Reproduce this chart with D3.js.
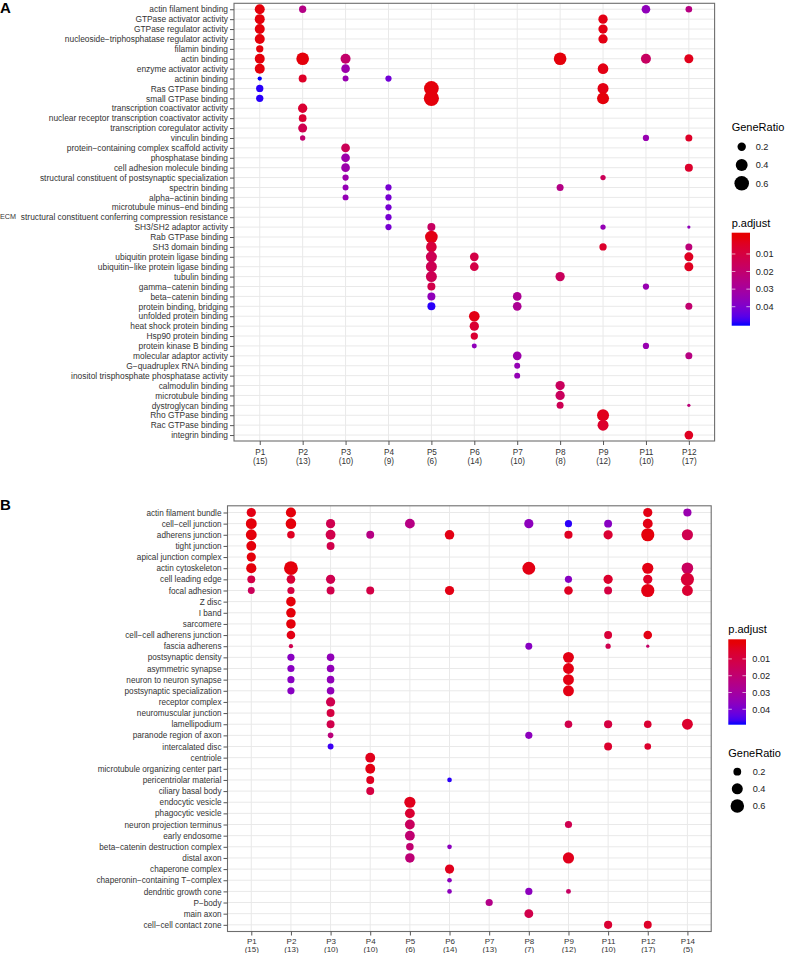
<!DOCTYPE html>
<html><head><meta charset="utf-8">
<script src="https://cdn.jsdelivr.net/npm/d3@7"></script>
<style>body{margin:0;background:#fff}svg{display:block;font-family:"Liberation Sans",Arial,Helvetica,sans-serif}</style>
</head><body><svg id="c" width="787" height="953"></svg>
<script>
// ---------- Panel A: molecular function ----------
const mfTerms = [
 "actin filament binding","GTPase activator activity","GTPase regulator activity",
 "nucleoside-triphosphatase regulator activity","filamin binding","actin binding",
 "enzyme activator activity","actinin binding","Ras GTPase binding","small GTPase binding",
 "transcription coactivator activity","nuclear receptor transcription coactivator activity",
 "transcription coregulator activity","vinculin binding","protein-containing complex scaffold activity",
 "phosphatase binding","cell adhesion molecule binding","structural constituent of postsynaptic specialization",
 "spectrin binding","alpha-actinin binding","microtubule minus-end binding",
 "structural constituent conferring compression resistance","SH3/SH2 adaptor activity",
 "Rab GTPase binding","SH3 domain binding","ubiquitin protein ligase binding",
 "ubiquitin-like protein ligase binding","tubulin binding","gamma-catenin binding",
 "beta-catenin binding","protein binding, bridging","unfolded protein binding",
 "heat shock protein binding","Hsp90 protein binding","protein kinase B binding",
 "molecular adaptor activity","G-quadruplex RNA binding","inositol trisphosphate phosphatase activity",
 "calmodulin binding","microtubule binding","dystroglycan binding","Rho GTPase binding",
 "Rac GTPase binding","integrin binding"];
const mfClusters = ["P1","P2","P3","P4","P5","P6","P7","P8","P9","P11","P12"];
const mfSizes = [15,13,10,9,6,14,10,8,12,10,17];
// [term, cluster, GeneRatio, p.adjust]
const mfDots = [
 ["actin filament binding","P1",0.28,0.001],["actin filament binding","P2",0.15,0.025],
 ["actin filament binding","P11",0.21,0.036],["actin filament binding","P12",0.125,0.024],
 ["GTPase activator activity","P1",0.28,0.001],["GTPase activator activity","P9",0.244,0.002],
 ["GTPase regulator activity","P1",0.28,0.001],["GTPase regulator activity","P9",0.244,0.002],
 ["nucleoside-triphosphatase regulator activity","P1",0.28,0.001],["nucleoside-triphosphatase regulator activity","P9",0.244,0.002],
 ["filamin binding","P1",0.15,0.001],
 ["actin binding","P1",0.28,0.001],["actin binding","P2",0.45,0.001],["actin binding","P3",0.28,0.019],
 ["actin binding","P8",0.45,0.001],["actin binding","P11",0.28,0.017],["actin binding","P12",0.23,0.003],
 ["enzyme activator activity","P1",0.28,0.001],["enzyme activator activity","P3",0.21,0.033],["enzyme activator activity","P9",0.32,0.002],
 ["actinin binding","P1",0.052,0.05],["actinin binding","P2",0.18,0.005],["actinin binding","P3",0.10,0.034],["actinin binding","P4",0.11,0.042],
 ["Ras GTPase binding","P1",0.15,0.049],["Ras GTPase binding","P5",0.61,0.001],["Ras GTPase binding","P9",0.34,0.002],
 ["small GTPase binding","P1",0.15,0.049],["small GTPase binding","P5",0.65,0.001],["small GTPase binding","P9",0.405,0.001],
 ["transcription coactivator activity","P2",0.244,0.007],
 ["nuclear receptor transcription coactivator activity","P2",0.167,0.007],
 ["transcription coregulator activity","P2",0.228,0.013],
 ["vinculin binding","P2",0.08,0.02],["vinculin binding","P11",0.11,0.034],["vinculin binding","P12",0.138,0.005],
 ["protein-containing complex scaffold activity","P3",0.213,0.015],
 ["phosphatase binding","P3",0.213,0.033],
 ["cell adhesion molecule binding","P3",0.213,0.033],["cell adhesion molecule binding","P12",0.18,0.006],
 ["structural constituent of postsynaptic specialization","P3",0.11,0.033],["structural constituent of postsynaptic specialization","P9",0.08,0.015],
 ["spectrin binding","P3",0.10,0.035],["spectrin binding","P4",0.11,0.041],["spectrin binding","P8",0.138,0.025],
 ["alpha-actinin binding","P3",0.10,0.035],["alpha-actinin binding","P4",0.11,0.041],
 ["microtubule minus-end binding","P4",0.11,0.041],
 ["structural constituent conferring compression resistance","P4",0.11,0.041],
 ["SH3/SH2 adaptor activity","P4",0.11,0.041],["SH3/SH2 adaptor activity","P5",0.18,0.017],
 ["SH3/SH2 adaptor activity","P9",0.08,0.035],["SH3/SH2 adaptor activity","P12",0.03,0.036],
 ["Rab GTPase binding","P5",0.45,0.002],
 ["SH3 domain binding","P5",0.32,0.009],["SH3 domain binding","P9",0.15,0.006],["SH3 domain binding","P12",0.138,0.022],
 ["ubiquitin protein ligase binding","P5",0.34,0.014],["ubiquitin protein ligase binding","P6",0.213,0.011],["ubiquitin protein ligase binding","P12",0.228,0.004],
 ["ubiquitin-like protein ligase binding","P5",0.34,0.014],["ubiquitin-like protein ligase binding","P6",0.213,0.011],["ubiquitin-like protein ligase binding","P12",0.228,0.004],
 ["tubulin binding","P5",0.34,0.014],["tubulin binding","P8",0.244,0.016],
 ["gamma-catenin binding","P5",0.18,0.012],["gamma-catenin binding","P11",0.11,0.034],
 ["beta-catenin binding","P5",0.18,0.036],["beta-catenin binding","P7",0.213,0.028],
 ["protein binding, bridging","P5",0.18,0.049],["protein binding, bridging","P7",0.213,0.028],["protein binding, bridging","P12",0.138,0.02],
 ["unfolded protein binding","P6",0.32,0.002],
 ["heat shock protein binding","P6",0.244,0.007],
 ["Hsp90 protein binding","P6",0.15,0.007],
 ["protein kinase B binding","P6",0.07,0.036],["protein kinase B binding","P11",0.11,0.034],
 ["molecular adaptor activity","P7",0.213,0.033],["molecular adaptor activity","P12",0.138,0.024],
 ["G-quadruplex RNA binding","P7",0.10,0.035],
 ["inositol trisphosphate phosphatase activity","P7",0.10,0.035],
 ["calmodulin binding","P8",0.244,0.016],
 ["microtubule binding","P8",0.244,0.016],
 ["dystroglycan binding","P8",0.138,0.014],["dystroglycan binding","P12",0.03,0.022],
 ["Rho GTPase binding","P9",0.405,0.003],
 ["Rac GTPase binding","P9",0.34,0.006],
 ["integrin binding","P12",0.213,0.004]];

// ---------- Panel B: cellular component ----------
const ccTerms = [
 "actin filament bundle","cell-cell junction","adherens junction","tight junction",
 "apical junction complex","actin cytoskeleton","cell leading edge","focal adhesion","Z disc",
 "I band","sarcomere","cell-cell adherens junction","fascia adherens","postsynaptic density",
 "asymmetric synapse","neuron to neuron synapse","postsynaptic specialization","receptor complex",
 "neuromuscular junction","lamellipodium","paranode region of axon","intercalated disc","centriole",
 "microtubule organizing center part","pericentriolar material","ciliary basal body",
 "endocytic vesicle","phagocytic vesicle","neuron projection terminus","early endosome",
 "beta-catenin destruction complex","distal axon","chaperone complex",
 "chaperonin-containing T-complex","dendritic growth cone","P-body","main axon","cell-cell contact zone"];
const ccClusters = ["P1","P2","P3","P4","P5","P6","P7","P8","P9","P11","P12","P14"];
const ccSizes = [15,13,10,10,6,14,13,7,12,10,17,5];
const ccDots = [
 ["actin filament bundle","P1",0.28,0.002],["actin filament bundle","P2",0.34,0.001],["actin filament bundle","P12",0.28,0.002],["actin filament bundle","P14",0.22,0.033],
 ["cell-cell junction","P1",0.39,0.001],["cell-cell junction","P2",0.37,0.001],["cell-cell junction","P3",0.28,0.013],["cell-cell junction","P5",0.32,0.024],
 ["cell-cell junction","P8",0.28,0.036],["cell-cell junction","P9",0.17,0.048],["cell-cell junction","P11",0.207,0.037],["cell-cell junction","P12",0.32,0.002],
 ["adherens junction","P1",0.39,0.001],["adherens junction","P2",0.19,0.004],["adherens junction","P3",0.32,0.012],["adherens junction","P4",0.207,0.024],
 ["adherens junction","P6",0.30,0.002],["adherens junction","P9",0.22,0.004],["adherens junction","P11",0.28,0.007],["adherens junction","P12",0.57,0.001],["adherens junction","P14",0.41,0.013],
 ["tight junction","P1",0.32,0.001],["tight junction","P3",0.207,0.012],
 ["apical junction complex","P1",0.28,0.001],
 ["actin cytoskeleton","P1",0.34,0.001],["actin cytoskeleton","P2",0.63,0.001],["actin cytoskeleton","P8",0.545,0.002],["actin cytoskeleton","P12",0.41,0.002],["actin cytoskeleton","P14",0.44,0.016],
 ["cell leading edge","P1",0.207,0.011],["cell leading edge","P2",0.244,0.008],["cell leading edge","P3",0.28,0.013],["cell leading edge","P9",0.17,0.037],
 ["cell leading edge","P11",0.28,0.006],["cell leading edge","P12",0.28,0.005],["cell leading edge","P14",0.57,0.008],
 ["focal adhesion","P1",0.158,0.015],["focal adhesion","P2",0.17,0.01],["focal adhesion","P3",0.207,0.012],["focal adhesion","P4",0.207,0.011],
 ["focal adhesion","P6",0.28,0.002],["focal adhesion","P9",0.244,0.004],["focal adhesion","P11",0.207,0.01],["focal adhesion","P12",0.57,0.002],["focal adhesion","P14",0.39,0.007],
 ["Z disc","P2",0.30,0.001],["I band","P2",0.30,0.001],["sarcomere","P2",0.30,0.001],
 ["cell-cell adherens junction","P2",0.244,0.002],["cell-cell adherens junction","P11",0.207,0.008],["cell-cell adherens junction","P12",0.244,0.002],
 ["fascia adherens","P2",0.06,0.013],["fascia adherens","P8",0.158,0.037],["fascia adherens","P11",0.09,0.013],["fascia adherens","P12",0.035,0.018],
 ["postsynaptic density","P2",0.17,0.037],["postsynaptic density","P3",0.19,0.035],["postsynaptic density","P9",0.39,0.002],
 ["asymmetric synapse","P2",0.17,0.037],["asymmetric synapse","P3",0.19,0.035],["asymmetric synapse","P9",0.39,0.002],
 ["neuron to neuron synapse","P2",0.17,0.037],["neuron to neuron synapse","P3",0.19,0.035],["neuron to neuron synapse","P9",0.39,0.002],
 ["postsynaptic specialization","P2",0.17,0.037],["postsynaptic specialization","P3",0.19,0.035],["postsynaptic specialization","P9",0.39,0.002],
 ["receptor complex","P3",0.28,0.013],
 ["neuromuscular junction","P3",0.207,0.01],
 ["lamellipodium","P3",0.207,0.012],["lamellipodium","P9",0.19,0.012],["lamellipodium","P11",0.22,0.01],["lamellipodium","P12",0.19,0.007],["lamellipodium","P14",0.39,0.006],
 ["paranode region of axon","P3",0.105,0.022],["paranode region of axon","P8",0.17,0.036],
 ["intercalated disc","P3",0.116,0.047],["intercalated disc","P11",0.207,0.006],["intercalated disc","P12",0.145,0.006],
 ["centriole","P4",0.32,0.003],
 ["microtubule organizing center part","P4",0.32,0.002],
 ["pericentriolar material","P4",0.207,0.004],["pericentriolar material","P6",0.071,0.048],
 ["ciliary basal body","P4",0.207,0.01],
 ["endocytic vesicle","P5",0.41,0.003],
 ["phagocytic vesicle","P5",0.32,0.007],
 ["neuron projection terminus","P5",0.32,0.016],["neuron projection terminus","P9",0.17,0.013],
 ["early endosome","P5",0.32,0.02],
 ["beta-catenin destruction complex","P5",0.19,0.02],["beta-catenin destruction complex","P6",0.071,0.036],
 ["distal axon","P5",0.30,0.021],["distal axon","P9",0.41,0.003],
 ["chaperone complex","P6",0.28,0.003],
 ["chaperonin-containing T-complex","P6",0.071,0.036],
 ["dendritic growth cone","P6",0.071,0.036],["dendritic growth cone","P8",0.17,0.036],["dendritic growth cone","P9",0.08,0.017],
 ["P-body","P7",0.17,0.025],
 ["main axon","P8",0.26,0.012],
 ["cell-cell contact zone","P11",0.22,0.007],["cell-cell contact zone","P12",0.207,0.005]];

// legend breaks
const sizeBreaks = [0.2, 0.4, 0.6];
const pBreaks = [0.01, 0.02, 0.03, 0.04];

// ---------- styling ----------
const LOW = "#e60000", HIGH = "#0000ff";
const GRID = "#e9e9e9", BORDER = "#6e6e6e", TICK = "#555", TXT = "#333";
const FONT = '"Liberation Sans", Arial, Helvetica, sans-serif';
const svg = d3.select("#c");
const minus = s => s.replace(/-/g, "\u2212");

function drawPanel(o) {
  const g = svg.append("g");
  const x = d3.scalePoint().domain(o.clusters).range([o.left, o.right]).padding(0.6);
  const y = d3.scalePoint().domain(o.terms).range([o.top, o.bottom]).padding(0.6);
  const r = d3.scaleSqrt().domain([0, 0.6]).range([0, o.r06]);
  const col = d3.scaleLinear().domain(o.pDomain).range([LOW, HIGH]).interpolate(d3.interpolateLab).clamp(true);

  g.append("g").selectAll("line").data(o.terms).join("line")
    .attr("x1", o.left).attr("x2", o.right).attr("y1", d => y(d)).attr("y2", d => y(d))
    .attr("stroke", GRID).attr("stroke-width", 1);
  g.append("g").selectAll("line").data(o.clusters).join("line")
    .attr("y1", o.top).attr("y2", o.bottom).attr("x1", d => x(d)).attr("x2", d => x(d))
    .attr("stroke", GRID).attr("stroke-width", 1);

  g.append("g").selectAll("circle").data(o.dots).join("circle")
    .attr("cx", d => x(d[1])).attr("cy", d => y(d[0])).attr("r", d => r(d[2]))
    .attr("fill", d => col(d[3]));

  g.append("rect").attr("x", o.left).attr("y", o.top)
    .attr("width", o.right - o.left).attr("height", o.bottom - o.top)
    .attr("fill", "none").attr("stroke", BORDER).attr("stroke-width", 1.1);

  const ya = g.append("g").attr("transform", `translate(${o.left},0)`)
    .call(d3.axisLeft(y).tickSize(4).tickPadding(2).tickFormat(minus));
  ya.select(".domain").remove();
  ya.attr("font-family", FONT).attr("font-size", o.fontY);
  ya.selectAll("line").attr("stroke", TICK);
  ya.selectAll("text").attr("fill", TXT);

  const xa = g.append("g").attr("transform", `translate(0,${o.bottom})`)
    .call(d3.axisBottom(x).tickSize(4).tickFormat(""));
  xa.select(".domain").remove();
  xa.selectAll("line").attr("stroke", TICK);
  xa.selectAll(".tick text").remove();
  const t = xa.selectAll(".tick").append("text")
    .attr("font-family", FONT).attr("font-size", o.fontX).attr("fill", TXT).attr("text-anchor", "middle");
  t.append("tspan").attr("x", 0).attr("y", o.xl1).text(d => d);
  t.append("tspan").attr("x", 0).attr("y", o.xl2).text(d => `(${o.sizes[o.clusters.indexOf(d)]})`);
  return {x, y, r, col};
}

function sizeLegend(o, r) {
  const g = svg.append("g").attr("font-family", FONT);
  g.append("text").attr("x", o.x).attr("y", o.titleY).attr("font-size", 11).attr("fill", "#000").text("GeneRatio");
  const ly = d3.scalePoint().domain(sizeBreaks).range([o.y0, o.y1]);
  g.selectAll("circle").data(sizeBreaks).join("circle")
    .attr("cx", o.dotX).attr("cy", d => ly(d)).attr("r", d => r(d)).attr("fill", "#000");
  g.selectAll("text.l").data(sizeBreaks).join("text").attr("class", "l")
    .attr("x", o.labX).attr("y", d => ly(d) + 3.3).attr("font-size", 9.2).attr("fill", "#222").text(d => d);
}

function colorLegend(o, col) {
  const g = svg.append("g").attr("font-family", FONT);
  g.append("text").attr("x", o.x).attr("y", o.titleY).attr("font-size", 11).attr("fill", "#000").text("p.adjust");
  const by = d3.scaleLinear().domain(o.barDomain).range([o.top, o.bottom]);
  const id = "grad" + o.id;
  const grad = svg.append("defs").append("linearGradient").attr("id", id)
    .attr("x1", 0).attr("x2", 0).attr("y1", 0).attr("y2", 1);
  d3.range(0, 1.0001, 0.05).forEach(f => {
    grad.append("stop").attr("offset", f).attr("stop-color", col(by.invert(o.top + f * (o.bottom - o.top))));
  });
  g.append("rect").attr("x", o.x).attr("y", o.top).attr("width", o.w).attr("height", o.bottom - o.top).attr("fill", `url(#${id})`);
  g.selectAll("line.a").data(pBreaks).join("line").attr("class", "a")
    .attr("x1", o.x).attr("x2", o.x + o.w / 5).attr("y1", d => by(d)).attr("y2", d => by(d))
    .attr("stroke", "#fff").attr("stroke-width", 0.8).attr("opacity", 0.8);
  g.selectAll("line.b").data(pBreaks).join("line").attr("class", "b")
    .attr("x1", o.x + o.w * 0.8).attr("x2", o.x + o.w).attr("y1", d => by(d)).attr("y2", d => by(d))
    .attr("stroke", "#fff").attr("stroke-width", 0.8).attr("opacity", 0.8);
  g.selectAll("text.l").data(pBreaks).join("text").attr("class", "l")
    .attr("x", o.labX).attr("y", d => by(d) + 3.3).attr("font-size", 9.2).attr("fill", "#222").text(d => d);
}

// Panel A
const A = drawPanel({terms: mfTerms, clusters: mfClusters, sizes: mfSizes, dots: mfDots,
  left: 234, right: 714.6, top: 3.3, bottom: 441, r06: 7.3, pDomain: [0, 0.05],
  fontY: 8.4, fontX: 8.2, xl1: 13.5, xl2: 22.5});
svg.append("text").attr("x", 0).attr("y", 13).attr("font-family", FONT).attr("font-weight", "bold")
  .attr("font-size", 15).text("A");
svg.append("text").attr("x", 0).attr("y", A.y("structural constituent conferring compression resistance") + 2.2)
  .attr("font-family", FONT).attr("font-size", 7.2).attr("fill", TXT).text("ECM");
sizeLegend({x: 731.7, titleY: 130.5, dotX: 741.7, y0: 146.7, y1: 183.3, labX: 755.7}, A.r);
colorLegend({id: "A", x: 731.7, w: 18.3, titleY: 226.5, top: 232.7, bottom: 325.7,
  barDomain: [-0.0021, 0.0508], labX: 755.7}, A.col);

// Panel B
const B = drawPanel({terms: ccTerms, clusters: ccClusters, sizes: ccSizes, dots: ccDots,
  left: 227.5, right: 711.2, top: 505.8, bottom: 931.5, r06: 6.75, pDomain: [0, 0.049],
  fontY: 8.2, fontX: 8, xl1: 12, xl2: 20.5});
svg.append("text").attr("x", 0).attr("y", 510).attr("font-family", FONT).attr("font-weight", "bold")
  .attr("font-size", 15).text("B");
colorLegend({id: "B", x: 728.3, w: 17.7, titleY: 632.5, top: 639.3, bottom: 724.7,
  barDomain: [-0.0017, 0.0492], labX: 752.3}, B.col);
sizeLegend({x: 728.3, titleY: 757, dotX: 737.3, y0: 771.7, y1: 806, labX: 752.7}, B.r);
</script>
</body></html>
